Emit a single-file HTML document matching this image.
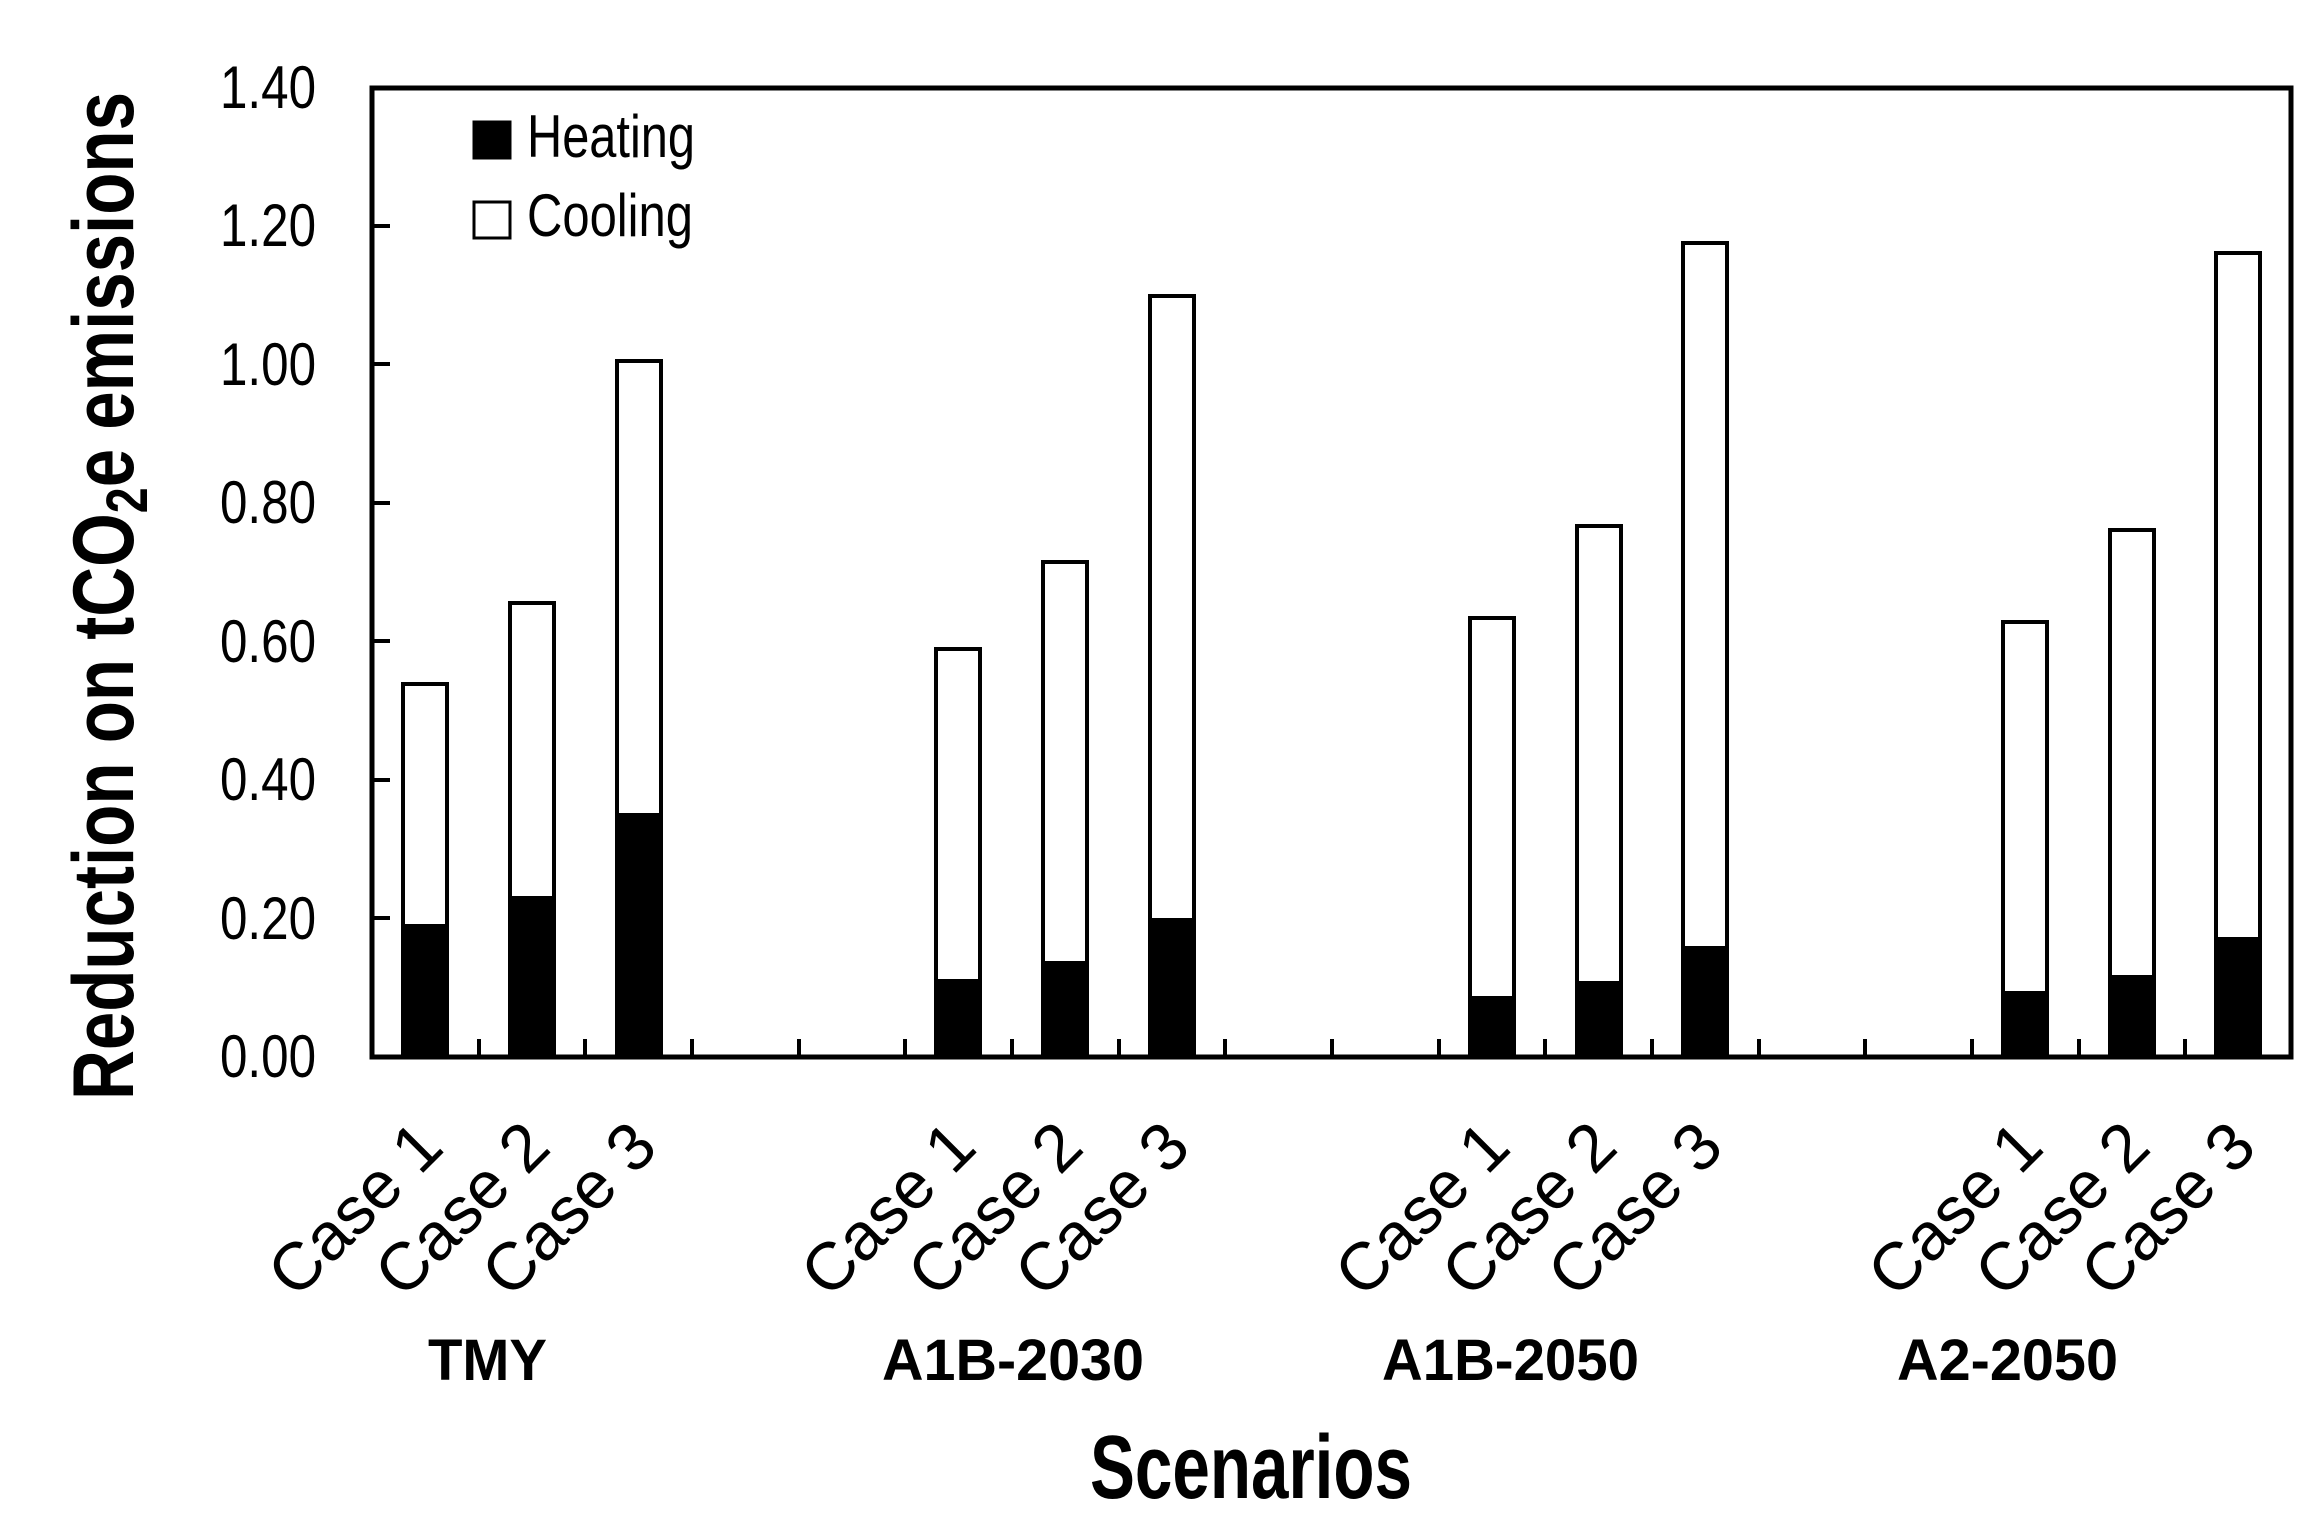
<!DOCTYPE html>
<html><head><meta charset="utf-8"><style>
html,body{margin:0;padding:0;background:#fff;}
svg{display:block;}
text{font-family:"Liberation Sans",Arial,sans-serif;fill:#000;}
</style></head><body>
<svg width="2316" height="1514" viewBox="0 0 2316 1514" xmlns="http://www.w3.org/2000/svg">
<g stroke="#000" stroke-width="4" fill="none">
<line x1="372" y1="226" x2="390" y2="226"/>
<line x1="372" y1="364" x2="390" y2="364"/>
<line x1="372" y1="503" x2="390" y2="503"/>
<line x1="372" y1="641" x2="390" y2="641"/>
<line x1="372" y1="780" x2="390" y2="780"/>
<line x1="372" y1="918" x2="390" y2="918"/>
<line x1="479" y1="1057" x2="479" y2="1039"/>
<line x1="585" y1="1057" x2="585" y2="1039"/>
<line x1="692" y1="1057" x2="692" y2="1039"/>
<line x1="799" y1="1057" x2="799" y2="1039"/>
<line x1="905" y1="1057" x2="905" y2="1039"/>
<line x1="1012" y1="1057" x2="1012" y2="1039"/>
<line x1="1119" y1="1057" x2="1119" y2="1039"/>
<line x1="1225" y1="1057" x2="1225" y2="1039"/>
<line x1="1332" y1="1057" x2="1332" y2="1039"/>
<line x1="1439" y1="1057" x2="1439" y2="1039"/>
<line x1="1545" y1="1057" x2="1545" y2="1039"/>
<line x1="1652" y1="1057" x2="1652" y2="1039"/>
<line x1="1759" y1="1057" x2="1759" y2="1039"/>
<line x1="1865" y1="1057" x2="1865" y2="1039"/>
<line x1="1972" y1="1057" x2="1972" y2="1039"/>
<line x1="2079" y1="1057" x2="2079" y2="1039"/>
<line x1="2185" y1="1057" x2="2185" y2="1039"/>
</g>
<g stroke="#000" stroke-width="4">
<rect x="403" y="684" width="44" height="373" fill="#fff"/><rect x="403" y="926" width="44" height="131" fill="#000"/>
<rect x="510" y="603" width="44" height="454" fill="#fff"/><rect x="510" y="898" width="44" height="159" fill="#000"/>
<rect x="617" y="361" width="44" height="696" fill="#fff"/><rect x="617" y="815" width="44" height="242" fill="#000"/>
<rect x="936" y="649" width="44" height="408" fill="#fff"/><rect x="936" y="981" width="44" height="76" fill="#000"/>
<rect x="1043" y="562" width="44" height="495" fill="#fff"/><rect x="1043" y="963" width="44" height="94" fill="#000"/>
<rect x="1150" y="296" width="44" height="761" fill="#fff"/><rect x="1150" y="920" width="44" height="137" fill="#000"/>
<rect x="1470" y="618" width="44" height="439" fill="#fff"/><rect x="1470" y="998" width="44" height="59" fill="#000"/>
<rect x="1577" y="526" width="44" height="531" fill="#fff"/><rect x="1577" y="983" width="44" height="74" fill="#000"/>
<rect x="1683" y="243" width="44" height="814" fill="#fff"/><rect x="1683" y="948" width="44" height="109" fill="#000"/>
<rect x="2003" y="622" width="44" height="435" fill="#fff"/><rect x="2003" y="993" width="44" height="64" fill="#000"/>
<rect x="2110" y="530" width="44" height="527" fill="#fff"/><rect x="2110" y="977" width="44" height="80" fill="#000"/>
<rect x="2216" y="253" width="44" height="804" fill="#fff"/><rect x="2216" y="939" width="44" height="118" fill="#000"/>
</g>
<rect x="372" y="88" width="1919" height="969" fill="none" stroke="#000" stroke-width="5"/>
<rect x="474" y="122" width="36" height="36" fill="#000" stroke="#000" stroke-width="3"/>
<rect x="474" y="202" width="36" height="36" fill="#fff" stroke="#000" stroke-width="3"/>
<text x="527" y="157" font-size="60" textLength="168" lengthAdjust="spacingAndGlyphs">Heating</text>
<text x="527" y="236" font-size="60" textLength="166" lengthAdjust="spacingAndGlyphs">Cooling</text>
<g font-size="60" text-anchor="end">
<text x="316" y="108" textLength="96" lengthAdjust="spacingAndGlyphs">1.40</text>
<text x="316" y="246" textLength="96" lengthAdjust="spacingAndGlyphs">1.20</text>
<text x="316" y="385" textLength="96" lengthAdjust="spacingAndGlyphs">1.00</text>
<text x="316" y="523" textLength="96" lengthAdjust="spacingAndGlyphs">0.80</text>
<text x="316" y="662" textLength="96" lengthAdjust="spacingAndGlyphs">0.60</text>
<text x="316" y="800" textLength="96" lengthAdjust="spacingAndGlyphs">0.40</text>
<text x="316" y="939" textLength="96" lengthAdjust="spacingAndGlyphs">0.20</text>
<text x="316" y="1077" textLength="96" lengthAdjust="spacingAndGlyphs">0.00</text>
</g>
<text transform="translate(133,1100) rotate(-90)" font-size="86" font-weight="bold" textLength="1008" lengthAdjust="spacingAndGlyphs">Reduction on tCO<tspan font-size="58" dy="14">2</tspan><tspan dy="-14">e emissions</tspan></text>
<g font-size="67" text-anchor="end">
<text transform="translate(446,1150) rotate(-45)">Case 1</text>
<text transform="translate(553,1150) rotate(-45)">Case 2</text>
<text transform="translate(660,1150) rotate(-45)">Case 3</text>
<text transform="translate(979,1150) rotate(-45)">Case 1</text>
<text transform="translate(1086,1150) rotate(-45)">Case 2</text>
<text transform="translate(1193,1150) rotate(-45)">Case 3</text>
<text transform="translate(1513,1150) rotate(-45)">Case 1</text>
<text transform="translate(1620,1150) rotate(-45)">Case 2</text>
<text transform="translate(1726,1150) rotate(-45)">Case 3</text>
<text transform="translate(2046,1150) rotate(-45)">Case 1</text>
<text transform="translate(2153,1150) rotate(-45)">Case 2</text>
<text transform="translate(2259,1150) rotate(-45)">Case 3</text>
</g>
<g font-size="58" font-weight="bold">
<text x="428" y="1380" textLength="119" lengthAdjust="spacingAndGlyphs">TMY</text>
<text x="882" y="1380" textLength="262" lengthAdjust="spacingAndGlyphs">A1B-2030</text>
<text x="1382" y="1380" textLength="257" lengthAdjust="spacingAndGlyphs">A1B-2050</text>
<text x="1897" y="1380" textLength="221" lengthAdjust="spacingAndGlyphs">A2-2050</text>
</g>
<text x="1090" y="1498" font-size="90" font-weight="bold" textLength="322" lengthAdjust="spacingAndGlyphs">Scenarios</text>
</svg>
</body></html>
